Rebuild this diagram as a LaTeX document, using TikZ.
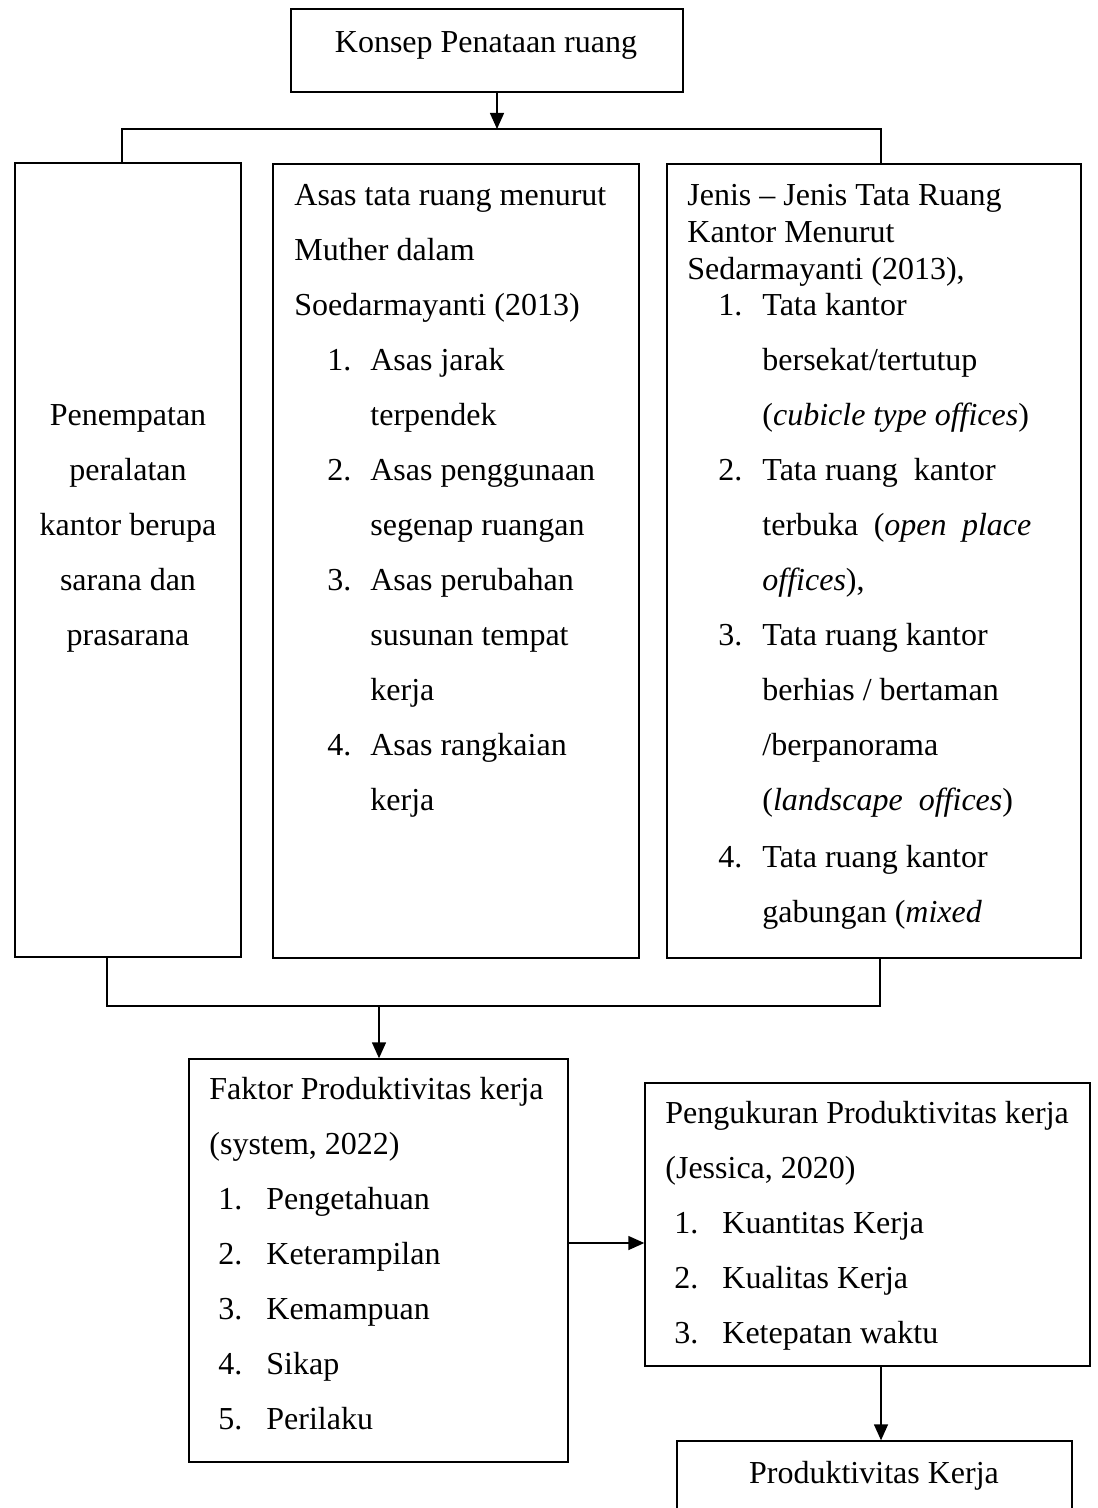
\documentclass[tikz,border=0pt]{standalone}
\usepackage{fontspec}
\setmainfont{Liberation Serif}
\newcommand{\nomor}[3]{\hspace*{#1}\makebox[#2][l]{#3}}% geser, lebar, nomor
\usetikzlibrary{fit}
\usetikzlibrary{arrows.meta}

\begin{document}
\begin{tikzpicture}[x=0.5pt,y=-0.5pt,
	kotak/.style={draw, line width=0.7pt, inner sep=0pt},
	isi/.style={inner sep=0pt, anchor=north west, align=left, font=\fontsize{16}{27.5}\selectfont},
	panah/.style={-{Triangle[length=8pt,width=7pt]}, line width=0.7pt}]
	\useasboundingbox (0,0) rectangle (1097,1508);
	\clip (0,0) rectangle (1097,1508);
	% kotak
	\node[kotak, fit={(291,9) (683,92)}] (konsep) {};
	\node[kotak, fit={(15,163) (241,957)}] (penempatan) {};
	\node[kotak, fit={(273,164) (639,958)}] (asas) {};
	\node[kotak, fit={(667,164) (1081,958)}] (jenis) {};
	\node[kotak, fit={(189,1059) (568,1462)}] (faktor) {};
	\node[kotak, fit={(645,1083) (1090,1366)}] (pengukuran) {};
	\node[kotak, fit={(677,1441) (1072,1540)}] (produktivitas) {};
	% teks
	\node[isi, anchor=base] (konsepTeks) at (486,53) {Konsep Penataan ruang};
	\node[isi, align=center, anchor=north] (penempatanTeks) at (128,401)
		{\rule{0pt}{12pt}Penempatan\\peralatan\\kantor berupa\\sarana dan\\prasarana};
	\node[isi] (asasTeks) at (294,181)
		{\rule{0pt}{12pt}Asas tata ruang menurut\\Muther dalam\\Soedarmayanti (2013)\\
		\nomor{16.5pt}{21.5pt}{1.}Asas jarak\\\hspace*{38pt}terpendek\\
		\nomor{16.5pt}{21.5pt}{2.}Asas penggunaan\\\hspace*{38pt}segenap ruangan\\
		\nomor{16.5pt}{21.5pt}{3.}Asas perubahan\\\hspace*{38pt}susunan tempat\\\hspace*{38pt}kerja\\
		\nomor{16.5pt}{21.5pt}{4.}Asas rangkaian\\\hspace*{38pt}kerja};
	\node[isi, font=\fontsize{16}{18.4}\selectfont] (jenisTeks) at (687,181)
		{\rule{0pt}{12pt}Jenis -- Jenis Tata Ruang\\Kantor Menurut\\Sedarmayanti (2013),\\
		\nomor{15.5pt}{22pt}{1.}Tata kantor\\[9.1pt]
		\hspace*{37.5pt}bersekat/tertutup\\[9.1pt]
		\hspace*{37.5pt}(\textit{cubicle type offices})\\[9.1pt]
		\nomor{15.5pt}{22pt}{2.}Tata ruang\ \ kantor\\[9.1pt]
		\hspace*{37.5pt}\makebox[134.5pt][s]{terbuka (\textit{open} \textit{place}}\\[9.1pt]
		\hspace*{37.5pt}\textit{offices}),\\[9.1pt]
		\nomor{15.5pt}{22pt}{3.}Tata ruang kantor\\[9.1pt]
		\hspace*{37.5pt}berhias / bertaman\\[9.1pt]
		\hspace*{37.5pt}/berpanorama\\[9.1pt]
		\hspace*{37.5pt}(\textit{landscape}\ \ \textit{offices})\\[10pt]
		\nomor{15.5pt}{22pt}{4.}Tata ruang kantor\\[9.1pt]
		\hspace*{37.5pt}gabungan (\textit{mixed}};
	\node[isi] (faktorTeks) at (209,1075)
		{\rule{0pt}{12pt}Faktor Produktivitas kerja\\(system, 2022)\\
		\nomor{4.5pt}{24pt}{1.}Pengetahuan\\
		\nomor{4.5pt}{24pt}{2.}Keterampilan\\
		\nomor{4.5pt}{24pt}{3.}Kemampuan\\
		\nomor{4.5pt}{24pt}{4.}Sikap\\
		\nomor{4.5pt}{24pt}{5.}Perilaku};
	\node[isi] (pengukuranTeks) at (665,1099)
		{\rule{0pt}{12pt}Pengukuran Produktivitas kerja\\(Jessica, 2020)\\
		\nomor{4.5pt}{24pt}{1.}Kuantitas Kerja\\
		\nomor{4.5pt}{24pt}{2.}Kualitas Kerja\\
		\nomor{4.5pt}{24pt}{3.}Ketepatan waktu};
	\node[isi, anchor=base] (produktivitasTeks) at (874,1483) {Produktivitas Kerja};
	% garis
	\coordinate (cabangAtas) at (497,129);
	\coordinate (kiriAtas) at (122,129);
	\coordinate (kananAtas) at (881,129);
	\draw[panah] (konsep.south -| cabangAtas) -- (cabangAtas);
	\draw[line width=0.7pt] (penempatan.north -| kiriAtas) -- (kiriAtas) -- (kananAtas) -- (jenis.north -| kananAtas);
	\coordinate (kiriBawah) at (107,1006);
	\coordinate (kananBawah) at (880,1006);
	\coordinate (cabangBawah) at (379,1006);
	\draw[line width=0.7pt] (penempatan.south -| kiriBawah) -- (kiriBawah) -- (kananBawah) -- (jenis.south -| kananBawah);
	\draw[panah] (cabangBawah) -- (faktor.north -| cabangBawah);
	\coordinate (tengahKanan) at (606,1243);
	\draw[panah] (faktor.east |- tengahKanan) -- (pengukuran.west |- tengahKanan);
	\coordinate (turun) at (881,1400);
	\draw[panah] (pengukuran.south -| turun) -- (produktivitas.north -| turun);
\end{tikzpicture}
\end{document}
